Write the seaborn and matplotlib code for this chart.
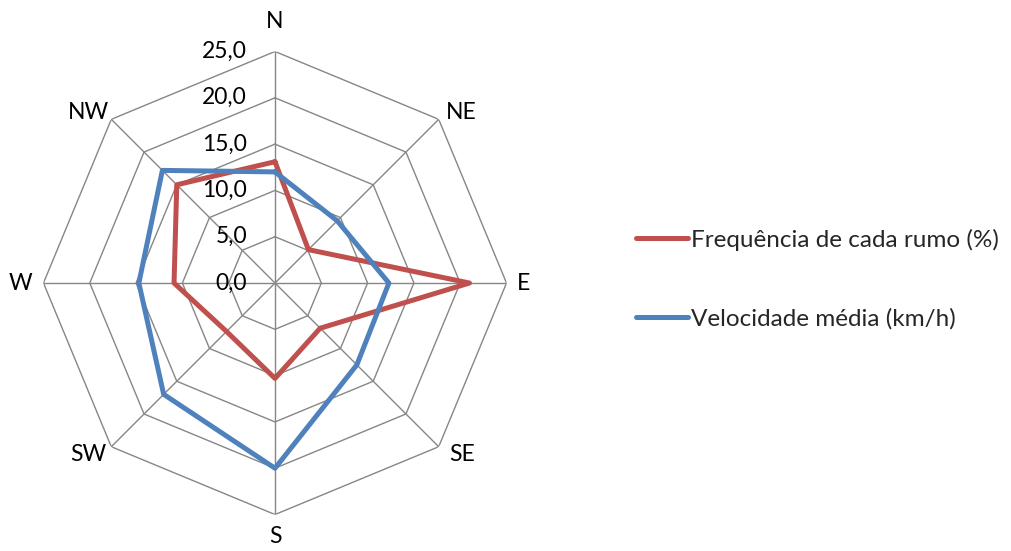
import numpy as np
import pandas as pd
import matplotlib
matplotlib.use('Agg')
import matplotlib.pyplot as plt
import seaborn as sns

# --- Données
rumos = ['N', 'NE', 'E', 'SE', 'S', 'SW', 'W', 'NW']
frequencia = [13.1, 5.1, 21.0, 6.9, 10.3, 7.4, 10.9, 15.0]
velocidade = [12.0, 9.5, 12.3, 12.5, 20.0, 17.0, 14.7, 17.2]
niveis = [0, 5, 10, 15, 20, 25]
series = ['Frequência de cada rumo (%)', 'Velocidade média (km/h)']

sns.set_theme(style='white')
plt.rcParams['font.family'] = ['Lato', 'DejaVu Sans']

ang = np.linspace(0, 2 * np.pi, len(rumos), endpoint=False)
ang_f = np.append(ang, 2 * np.pi)

rows = []
for nome, vals in zip(series, [frequencia, velocidade]):
    v = list(vals) + [vals[0]]
    for a, x in zip(ang_f, v):
        rows.append({'theta': a, 'valor': x, 'serie': nome})
df = pd.DataFrame(rows)

fig = plt.figure(figsize=(10.11, 5.51), dpi=100)
ax = fig.add_axes([0.043, 0.066, 0.458, 0.8407], projection='polar')
ax.set_theta_zero_location('N')
ax.set_theta_direction(-1)
ax.set_ylim(0, 25)
ax.grid(False)
ax.spines['polar'].set_visible(False)
ax.set_xticks([])
ax.set_yticks([])

# --- grade octogonal
cor_grade = '#868686'
for n in niveis[1:]:
    ax.plot(ang_f, [n] * len(ang_f), color=cor_grade, lw=1.0, zorder=1)
for a in ang:
    ax.plot([a, a], [0, 25], color=cor_grade, lw=1.0, zorder=1)

# --- séries
sns.lineplot(data=df, x='theta', y='valor', hue='serie', sort=False,
             palette=['#C0504D', '#4F81BD'], linewidth=3.6, ax=ax,
             estimator=None, zorder=3, legend=False)
ax.set_xlabel('')
ax.set_ylabel('')
ax.set_ylim(0, 25)

# --- rótulos do eixo radial
for n in niveis:
    ax.annotate(f'{n:.1f}'.replace('.', ','), xy=(0, n), xytext=(-28, 0),
                textcoords='offset pixels', ha='right', va='center',
                fontsize=16.5, color='black', annotation_clip=False)

# --- rótulos das direções
offs = [(0, 30), (23, 7), (17, 0), (23, -8), (0, -22), (-23, -8), (-23, 0), (-23, 7)]
for a, r, (dx, dy) in zip(ang, rumos, offs):
    ax.annotate(r, xy=(a, 25), xytext=(dx, dy), textcoords='offset pixels',
                ha='center', va='center', fontsize=16.5, color='black',
                annotation_clip=False)

# --- legenda
h = [plt.Line2D([], [], color='#C0504D', lw=3.6),
     plt.Line2D([], [], color='#4F81BD', lw=3.6)]
fig.legend(h, series, loc='center left', bbox_to_anchor=(0.619, 0.494),
           frameon=False, fontsize=17.5, handlelength=2.15, handletextpad=0.15,
           labelspacing=2.35, borderaxespad=0)

plt.savefig('out.png', dpi=100)
